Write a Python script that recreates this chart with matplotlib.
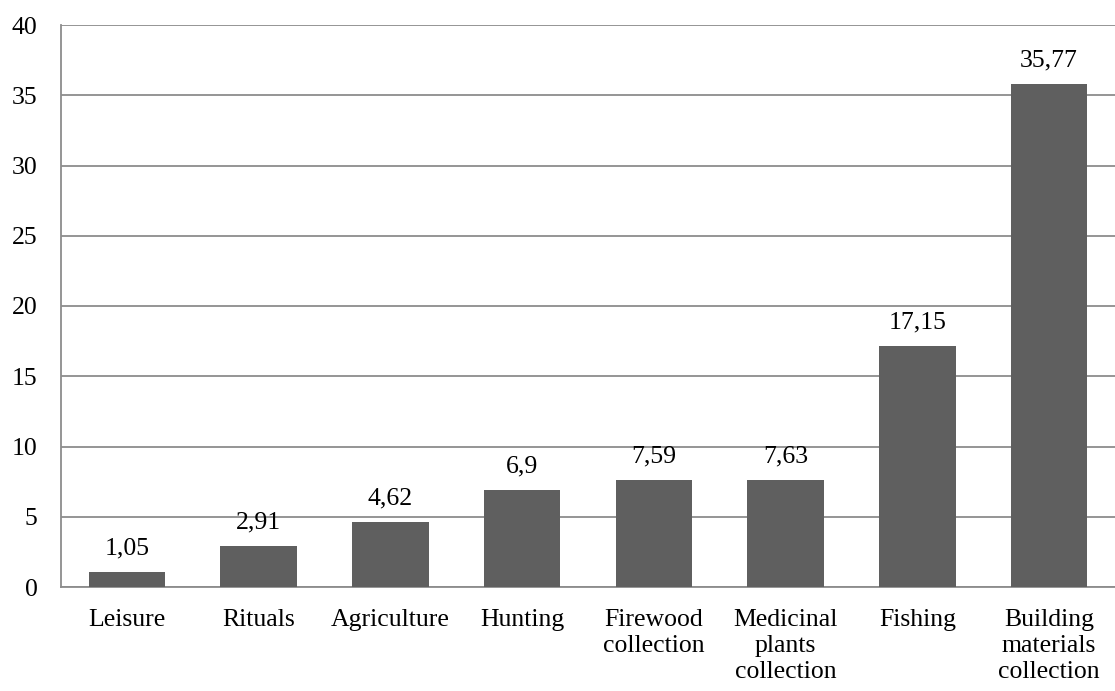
import matplotlib.pyplot as plt

categories = ["Leisure", "Rituals", "Agriculture", "Hunting", "Firewood\ncollection",
              "Medicinal\nplants\ncollection", "Fishing", "Building\nmaterials\ncollection"]
values = [1.05, 2.91, 4.62, 6.9, 7.59, 7.63, 17.15, 35.77]
labels = ["1,05", "2,91", "4,62", "6,9", "7,59", "7,63", "17,15", "35,77"]
yticks = [0, 5, 10, 15, 20, 25, 30, 35, 40]

plt.rcParams['font.family'] = ['Liberation Serif', 'DejaVu Serif']
fs = 18.5

fig = plt.figure(figsize=(11.15, 6.91), dpi=100)
ax = fig.add_axes([61 / 1115, 104 / 691, 1 - 61 / 1115, 562 / 691])

x = range(len(categories))
ax.bar(x, values, width=0.58, color='#5f5f5f', zorder=3)
for xi, v, lab in zip(x, values, labels):
    ax.annotate(lab, (xi, v), xytext=(0, 9), textcoords='offset points',
                ha='center', va='bottom', fontsize=fs, color='black')

ax.set_xlim(-0.5, len(categories) - 0.5)
ax.set_ylim(0, 40)
ax.set_yticks(yticks)
ax.set_xticks(list(x))
ax.set_xticklabels(categories, fontsize=fs, linespacing=1.22, va='top')
ax.tick_params(axis='y', labelsize=fs, length=0, pad=17)
ax.tick_params(axis='x', length=0, pad=16)
ax.yaxis.grid(True, color='#8c8c8c', linewidth=1.3, zorder=0)
for side in ['top', 'right']:
    ax.spines[side].set_visible(False)
for side in ['left', 'bottom']:
    ax.spines[side].set_color('#8c8c8c')
    ax.spines[side].set_linewidth(1.3)

fig.savefig("out.png", dpi=100)
